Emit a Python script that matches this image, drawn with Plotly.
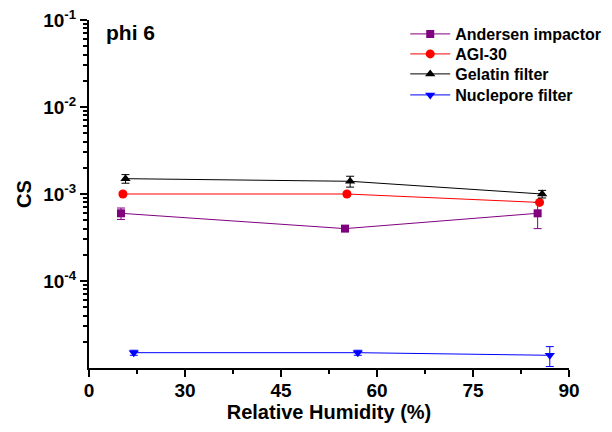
import plotly.graph_objects as go

# Data (x = relative humidity on the axis scale, y = CS)
series_names = ["Andersen impactor", "AGI-30", "Gelatin filter", "Nuclepore filter"]
colors = ["#800080", "#FF0000", "#000000", "#0000FF"]
symbols = ["square", "circle", "triangle-up", "triangle-down"]

andersen_x = [20.0, 55.0, 85.1]
andersen_y = [6.0e-4, 4.0e-4, 6.0e-4]
andersen_err = [0.9e-4, 0.0, 2.0e-4]

agi_x = [20.3, 55.3, 85.4]
agi_y = [1.0e-3, 1.0e-3, 8.0e-4]
agi_err = [0.05e-3, 0.05e-3, 0.0]

gelatin_x = [20.7, 55.8, 85.8]
gelatin_y = [1.5e-3, 1.4e-3, 1.0e-3]
gelatin_err = [0.17e-3, 0.2e-3, 0.1e-3]

nuclepore_x = [22.0, 57.0, 87.0]
nuclepore_y = [1.5e-5, 1.5e-5, 1.4e-5]
nuclepore_err = [0.1e-5, 0.1e-5, 0.36e-5]

x_tickvals = [15, 30, 45, 60, 75, 90]
x_ticktext = ["0", "30", "45", "60", "75", "90"]
x_minor = [22.5, 37.5, 52.5, 67.5, 82.5]

y_tickvals = [1e-4, 1e-3, 1e-2, 1e-1]
y_ticktext = ["10<sup>-4</sup>", "10<sup>-3</sup>", "10<sup>-2</sup>", "10<sup>-1</sup>"]
y_minor = [m * 10.0 ** e for e in range(-5, -1) for m in range(2, 10)]

xs = [andersen_x, agi_x, gelatin_x, nuclepore_x]
ys = [andersen_y, agi_y, gelatin_y, nuclepore_y]
errs = [andersen_err, agi_err, gelatin_err, nuclepore_err]
sizes = [8, 9, 9, 9]

FONT = "Liberation Sans, Arial, sans-serif"
legend_ids = ["legend", "legend2", "legend3", "legend4"]
legend_tops = [1.0086, 0.9511, 0.8937, 0.8333]

fig = go.Figure()
for name, c, s, x, y, e, sz, lg in zip(series_names, colors, symbols, xs, ys, errs, sizes, legend_ids):
    fig.add_trace(go.Scatter(
        x=x, y=y, name=name, mode="lines+markers",
        line=dict(color=c, width=1),
        marker=dict(symbol=s, color=c, size=sz),
        error_y=dict(type="data", array=e, visible=True, color=c, thickness=1, width=4),
        legend=lg,
    ))

legend_style = dict(
    xanchor="left", yanchor="top",
    font=dict(family=FONT, size=16, color="black", weight="bold"),
    bgcolor="rgba(0,0,0,0)", itemwidth=40,
)
legends = {lg: dict(x=0.6588, y=ly, **legend_style) for lg, ly in zip(legend_ids, legend_tops)}

fig.update_layout(
    width=612, height=432,
    margin=dict(l=89, r=43, t=20, b=64, autoexpand=False),
    paper_bgcolor="white", plot_bgcolor="white",
    font=dict(family=FONT, color="black", weight="bold"),
    showlegend=True,
    annotations=[dict(
        text="phi 6", x=(104 - 89) / 480, y=1 - (33 - 20) / 348,
        xref="paper", yref="paper", xanchor="left", yanchor="middle",
        showarrow=False,
        font=dict(family=FONT, size=21, color="black", weight="bold"),
    )],
    **legends,
)

fig.update_xaxes(
    range=[15, 90], tickmode="array", tickvals=x_tickvals, ticktext=x_ticktext,
    ticks="outside", ticklen=7, tickwidth=2, tickcolor="black",
    showline=True, linecolor="black", linewidth=2, showgrid=False, zeroline=False,
    automargin=False, ticklabelstandoff=-3,
    tickfont=dict(family=FONT, size=19, color="black", weight="bold"),
    minor=dict(tickmode="array", tickvals=x_minor, ticks="outside", ticklen=4, tickwidth=2, tickcolor="black", showgrid=False),
    title=dict(text="Relative Humidity (%)", font=dict(family=FONT, size=20, color="black", weight="bold"), standoff=0),
)
fig.update_yaxes(
    type="log", range=[-5, -1], tickmode="array", tickvals=y_tickvals, ticktext=y_ticktext,
    ticks="outside", ticklen=7, tickwidth=2, tickcolor="black",
    showline=True, linecolor="black", linewidth=2, showgrid=False, zeroline=False,
    automargin=False,
    tickfont=dict(family=FONT, size=19, color="black", weight="bold"),
    minor=dict(tickmode="array", tickvals=y_minor, ticks="outside", ticklen=4, tickwidth=2, tickcolor="black", showgrid=False),
    title=dict(text="CS", font=dict(family=FONT, size=20, color="black", weight="bold"), standoff=6),
)

fig.write_html("out.html", config={"displayModeBar": False},
               post_script="document.body.style.margin='0px';")
